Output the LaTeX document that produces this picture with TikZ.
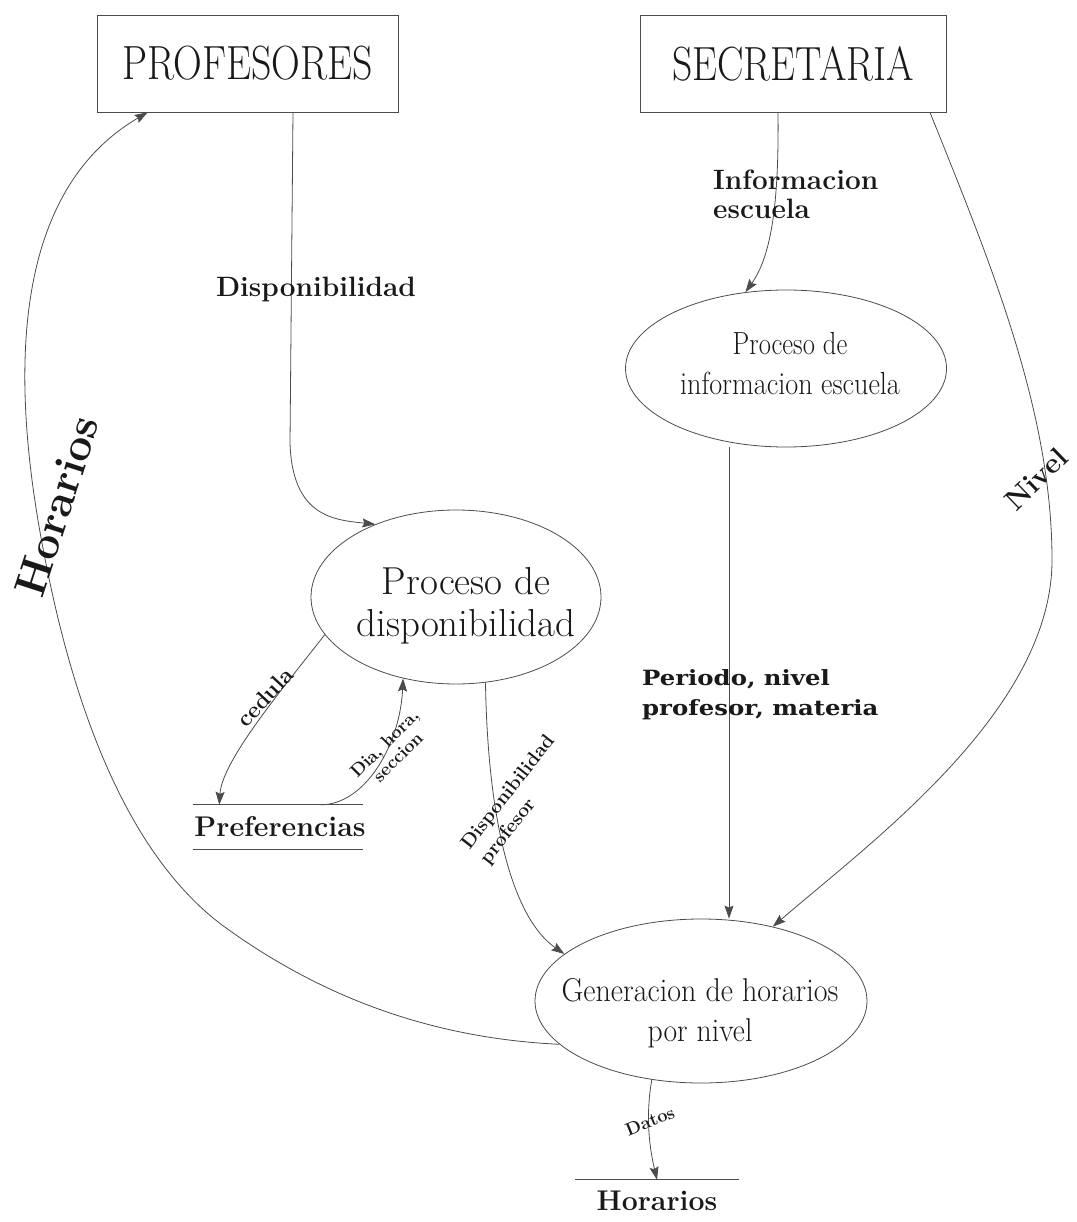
\documentclass[tikz,border=0pt]{standalone}
\usepackage{fontspec}
\usepackage{graphicx}
\usetikzlibrary{shapes.geometric,arrows.meta}
\newfontfamily\heavyserif{DejaVu Serif}
\definecolor{ink}{gray}{0.1}
\definecolor{wire}{gray}{0.3}
\newcommand{\narrowed}[2]{\scalebox{#1}[1]{#2}}
\begin{document}
\begin{tikzpicture}[x=1pt,y=-1pt,
  entity/.style={draw=wire, line width=0.8pt, rectangle, inner sep=0pt, text=ink,
                 font=\fontsize{48}{48}\selectfont},
  proc/.style={draw=wire, line width=0.8pt, ellipse, inner sep=0pt},
  proctext/.style={text=ink, align=center, inner sep=0pt},
  flow/.style={draw=wire, line width=0.8pt, -{Stealth[length=13pt,width=9pt,inset=2pt]}},
  rule/.style={draw=wire, line width=0.8pt},
  tag/.style={text=ink, inner sep=0pt},
  storetext/.style={tag, font=\bfseries\fontsize{28.5}{28.5}\selectfont}
]
\useasboundingbox (0,0) rectangle (1076,1222);

% external entities
\node[entity, minimum width=301pt, minimum height=97pt] (prof) at (247.5,63.5) {\narrowed{0.83}{PROFESORES}};
\node[entity, minimum width=306pt, minimum height=97pt] (secr) at (793,63.5) {\narrowed{0.825}{SECRETARIA}};

% processes
\node[proc, minimum width=290pt, minimum height=174pt] (pdisp) at (456,597) {};
\node[proctext, font=\fontsize{39}{42}\selectfont] (pdispt) at (466,606) {Proceso de\\disponibilidad};

\node[proc, minimum width=321pt, minimum height=157pt] (pinfo) at (786,368.5) {};
\node[proctext, font=\fontsize{32}{40}\selectfont] (pinfot) at (790,364)
  {\narrowed{0.83}{Proceso de}\\\narrowed{0.88}{informacion escuela}};

\node[proc, minimum width=332pt, minimum height=164pt] (gen) at (701,1001) {};
\node[proctext, font=\fontsize{33}{40}\selectfont] (gent) at (700,1013.5)
  {\narrowed{0.91}{Generacion de horarios}\\\narrowed{0.9}{por nivel}};

% data stores
\node[storetext, minimum width=167pt, minimum height=44pt] (pref) at (280,827) {Preferencias};
\draw[rule] ([xshift=-1pt]pref.north west) -- ([xshift=-3pt]pref.north east);
\draw[rule] ([xshift=-1pt]pref.south west) -- ([xshift=-3pt]pref.south east);

\node[storetext, minimum width=163pt, minimum height=42pt] (hstore) at (657,1201) {Horarios};
\draw[rule] (hstore.north west) -- (hstore.north east);

% data flows
\draw[flow] ([xshift=45.5pt]prof.south) -- ++(-3,330)
  .. controls +(2,75) and (335,520) .. (pdisp.138);
\draw[flow] ([xshift=-15pt]secr.south) .. controls (779,200) and (772,255) .. (pinfo.118);
\draw[flow] ([xshift=-57pt]pinfo.south) -- ([xshift=-57pt]pinfo.south |- gen.north);
\draw[flow] ([xshift=137pt]secr.south) .. controls (990,262) and (1052,410) .. (1052,560)
  .. controls (1052,710) and (871,842) .. (gen.46);
\draw[flow] (gen.197) .. controls (425,1038) and (315,993) .. (222,925)
  .. controls (125,852) and (76,705) .. (50,583)
  .. controls (23,456) and (-16,208) .. ([xshift=51pt]prof.south west);
\draw[flow] (pdisp.196) .. controls (285,686) and (222,760) .. ([xshift=25pt]pref.north west);
\draw[flow] ([xshift=126pt]pref.north west) .. controls (365,805) and (400,745) .. (pdisp.237);
\draw[flow] (pdisp.289) .. controls (488,830) and (515,920) .. (gen.161);
\draw[flow] (gen.238) .. controls (645,1118) and (650,1150) .. (hstore.north);

% flow labels
\node[tag, font=\bfseries\fontsize{28}{28}\selectfont] (lDisp) at (316,290) {Disponibilidad};
\node[tag, font=\bfseries\fontsize{28}{29}\selectfont, align=left, anchor=west] (lInfo) at (713,194) {Informacion\\escuela};
\node[tag, font=\heavyserif\bfseries\fontsize{21}{30}\selectfont, align=left, anchor=west] (lPer) at (642,695)
  {\narrowed{1.16}{Periodo, nivel}\\\narrowed{1.16}{profesor, materia}};
\node[tag, font=\bfseries\fontsize{44}{44}\selectfont, rotate=72] (lHor) at (57,506) {Horarios};
\node[tag, font=\bfseries\fontsize{29}{29}\selectfont, rotate=44] (lNiv) at (1036,479) {Nivel};
\node[tag, font=\bfseries\fontsize{23}{23}\selectfont, rotate=47] (lCed) at (265,697) {cedula};
\node[tag, font=\bfseries\fontsize{18}{19}\selectfont, rotate=45, align=center] (lDia) at (391,750) {Dia, hora,\\seccion};
\node[tag, font=\bfseries\fontsize{19.5}{24}\selectfont, rotate=52, align=left] (lDp) at (518,800) {Disponibilidad\\profesor};
\node[tag, font=\bfseries\fontsize{18}{18}\selectfont, rotate=22] (lDat) at (650,1121) {Datos};
\end{tikzpicture}
\end{document}
